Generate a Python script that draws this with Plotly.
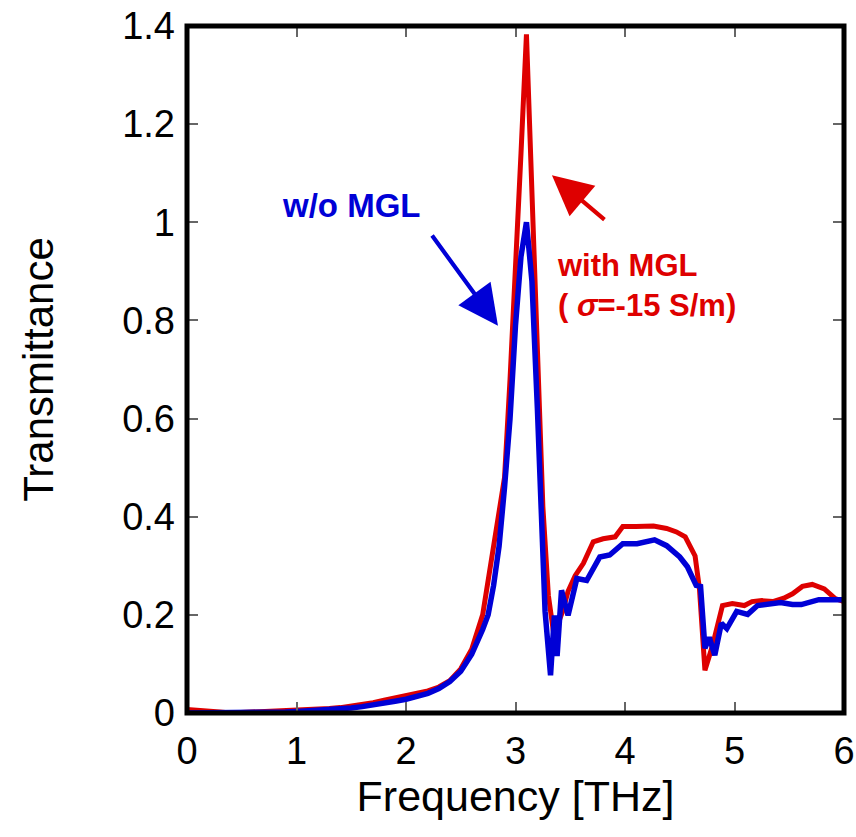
import plotly.graph_objects as go

# Frequency [THz] and transmittance, with MGL (sigma = -15 S/m)
red_f = [0.0, 0.1, 0.2, 0.3, 0.4, 0.5, 0.6, 0.7, 0.8, 0.9, 1.0, 1.1, 1.2, 1.3, 1.4, 1.5,
         1.6, 1.7, 1.8, 1.9, 2.0, 2.1, 2.2, 2.3, 2.4, 2.5, 2.6, 2.7, 2.8, 2.9, 2.95, 3.0,
         3.05, 3.1, 3.15, 3.2, 3.25, 3.3, 3.35, 3.43, 3.48, 3.545, 3.62, 3.71, 3.8, 3.91,
         3.98, 4.1, 4.26, 4.38, 4.47, 4.55, 4.64, 4.68, 4.73, 4.8, 4.89, 4.98, 5.09, 5.16,
         5.25, 5.35, 5.45, 5.53, 5.62, 5.71, 5.82, 5.92, 6.0]
red_t = [0.007, 0.006, 0.004, 0.002, 0.0, 0.001, 0.002, 0.003, 0.003, 0.003, 0.004, 0.005,
         0.007, 0.009, 0.011, 0.014, 0.017, 0.021, 0.026, 0.031, 0.036, 0.040, 0.045, 0.053,
         0.066, 0.090, 0.130, 0.200, 0.340, 0.480, 0.680, 0.890, 1.140, 1.383, 1.050, 0.720,
         0.420, 0.240, 0.160, 0.207, 0.248, 0.280, 0.305, 0.349, 0.355, 0.359, 0.380, 0.380,
         0.381, 0.376, 0.369, 0.359, 0.320, 0.253, 0.087, 0.138, 0.219, 0.223, 0.219, 0.227,
         0.229, 0.227, 0.234, 0.243, 0.258, 0.262, 0.253, 0.233, 0.227]

# without MGL
blue_f = [0.0, 0.1, 0.2, 0.3, 0.4, 0.5, 0.6, 0.7, 0.8, 0.9, 1.0, 1.1, 1.2, 1.3, 1.4, 1.5,
          1.6, 1.7, 1.8, 1.9, 2.0, 2.1, 2.2, 2.3, 2.4, 2.5, 2.6, 2.7, 2.75, 2.8, 2.85, 2.9,
          2.95, 3.0, 3.05, 3.1, 3.15, 3.2, 3.27, 3.32, 3.355, 3.38, 3.42, 3.48, 3.56, 3.65,
          3.7, 3.77, 3.86, 3.92, 3.98, 4.11, 4.2, 4.27, 4.38, 4.5, 4.57, 4.65, 4.69, 4.73,
          4.77, 4.82, 4.88, 4.93, 5.02, 5.12, 5.21, 5.32, 5.42, 5.53, 5.61, 5.77, 6.0]
blue_t = [0.0, 0.0, 0.0, 0.0, 0.0, 0.0, 0.0, 0.001, 0.002, 0.002, 0.003, 0.004, 0.005,
          0.006, 0.008, 0.010, 0.013, 0.016, 0.020, 0.024, 0.028, 0.033, 0.040, 0.050,
          0.064, 0.085, 0.120, 0.170, 0.200, 0.260, 0.340, 0.460, 0.600, 0.790, 0.930,
          1.000, 0.880, 0.620, 0.207, 0.077, 0.199, 0.116, 0.250, 0.199, 0.274, 0.270,
          0.290, 0.318, 0.322, 0.335, 0.345, 0.345, 0.350, 0.353, 0.341, 0.318, 0.298,
          0.260, 0.258, 0.132, 0.154, 0.118, 0.183, 0.172, 0.207, 0.201, 0.219, 0.221,
          0.225, 0.221, 0.221, 0.231, 0.231]

x_ticks = [0, 1, 2, 3, 4, 5, 6]
y_ticks = [0, 0.2, 0.4, 0.6, 0.8, 1.0, 1.2, 1.4]
y_tick_labels = ["0", "0.2", "0.4", "0.6", "0.8", "1", "1.2", "1.4"]

RED = "rgb(222,0,0)"
BLUE = "rgb(0,0,214)"
FONT = "Liberation Sans, Arial, sans-serif"

fig = go.Figure()
fig.add_trace(go.Scatter(x=red_f, y=red_t, mode="lines",
                         line=dict(color=RED, width=5), name="with MGL"))
fig.add_trace(go.Scatter(x=blue_f, y=blue_t, mode="lines",
                         line=dict(color=BLUE, width=5.5), name="w/o MGL"))

axis_common = dict(
    showline=False, mirror="allticks",
    ticks="inside", ticklen=11, tickwidth=2, tickcolor="#666666",
    showgrid=False, zeroline=False, automargin=False, ticklabeloverflow="allow",
    tickfont=dict(family=FONT, size=38, color="black"),
)

fig.update_xaxes(range=[0, 6], tickvals=x_ticks,
                 title=dict(text="Frequency [THz]", font=dict(family=FONT, size=43, color="black"),
                            standoff=4),
                 ticklabelstandoff=12, **axis_common)
fig.update_yaxes(range=[0, 1.4], tickvals=y_ticks, ticktext=y_tick_labels,
                 title=dict(text="Transmittance", font=dict(family=FONT, size=42, color="black"),
                            standoff=55),
                 ticklabelstandoff=11, **axis_common)

# black frame round the plot area
fig.add_shape(type="rect", xref="paper", yref="paper", x0=0, x1=1, y0=0, y1=1,
              line=dict(color="black", width=5), layer="above")

fig.add_annotation(x=0.85, y=1.035, xref="x", yref="y", text="<b>w/o MGL</b>",
                   showarrow=False, xanchor="left", yanchor="middle",
                   font=dict(family=FONT, size=33, color=BLUE))
fig.add_annotation(x=3.36, y=0.872, xref="x", yref="y",
                   text="<b>with MGL</b><br><b>( <i>σ</i>=-15 S/m)</b>",
                   showarrow=False, xanchor="left", yanchor="middle", align="left",
                   font=dict(family=FONT, size=31, color=RED))

# arrows
fig.add_annotation(x=2.84, y=0.789, ax=2.228, ay=0.976, xref="x", yref="y",
                   axref="x", ayref="y", text="", showarrow=True, arrowhead=2,
                   arrowsize=1.9, arrowwidth=4.2, arrowcolor=BLUE, standoff=0)
fig.add_annotation(x=3.333, y=1.096, ax=3.826, ay=1.003, xref="x", yref="y",
                   axref="x", ayref="y", text="", showarrow=True, arrowhead=2,
                   arrowsize=1.9, arrowwidth=4.2, arrowcolor=RED, standoff=0)

fig.update_layout(
    width=856, height=837, autosize=False,
    margin=dict(l=187, r=12, t=26, b=124),
    plot_bgcolor="white", paper_bgcolor="white",
    showlegend=False,
)

# remove the default 8px page margin so the figure fills the window exactly
fig.write_html(
    "out.html",
    config={"displayModeBar": False},
    post_script="document.body.style.margin='0';document.body.style.overflow='hidden';",
)
